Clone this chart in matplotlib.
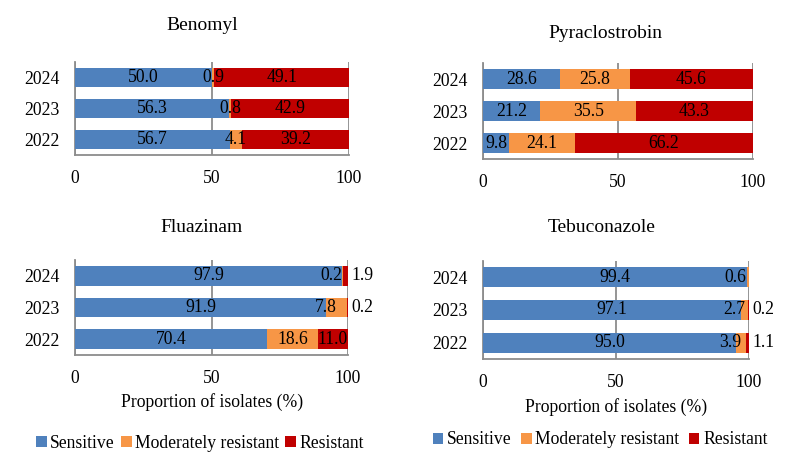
import matplotlib
matplotlib.use("Agg")
import matplotlib.pyplot as plt
from matplotlib.patches import Patch

plt.rcParams['font.family'] = ['Liberation Serif', 'DejaVu Serif']

# ---- data ----
years = ['2022', '2023', '2024']
categories = ['Sensitive', 'Moderately resistant', 'Resistant']
xticks = [0, 50, 100]

benomyl_s = [56.7, 56.3, 50.0]
benomyl_m = [4.1, 0.8, 0.9]
benomyl_r = [39.2, 42.9, 49.1]

pyra_s = [9.8, 21.2, 28.6]
pyra_m = [24.1, 35.5, 25.8]
pyra_r = [66.2, 43.3, 45.6]

flua_s = [70.4, 91.9, 97.9]
flua_m = [18.6, 7.8, 0.2]
flua_r = [11.0, 0.2, 1.9]

tebu_s = [95.0, 97.1, 99.4]
tebu_m = [3.9, 2.7, 0.6]
tebu_r = [1.1, 0.2, 0.0]

colors = ['#4F81BD', '#F79646', '#C00000']
W, H = 800, 459
FS = 12.7

fig = plt.figure(figsize=(W / 100, H / 100), dpi=100)


def px_axes(x0, x1, ytop, ybot):
    return fig.add_axes([x0 / W, 1 - ybot / H, (x1 - x0) / W, (ybot - ytop) / H])


def draw(ax, s, m, r, title, tpos, xlabel=None, xlpos=None):
    ypos = list(range(len(years)))
    left_m = [a for a in s]
    left_r = [a + b for a, b in zip(s, m)]
    ax.barh(ypos, s, height=0.62, color=colors[0], zorder=3)
    ax.barh(ypos, m, left=left_m, height=0.62, color=colors[1], zorder=3)
    ax.barh(ypos, r, left=left_r, height=0.62, color=colors[2], zorder=3)
    ax.set_xlim(0, 100)
    ax.set_ylim(-0.5, len(years) - 0.5)
    ax.set_yticks(ypos)
    ax.set_yticklabels(years, fontsize=FS)
    ax.set_xticks(xticks)
    ax.set_xticklabels([str(t) for t in xticks], fontsize=FS)
    ax.tick_params(axis='both', length=0)
    ax.tick_params(axis='y', pad=11)
    ax.tick_params(axis='x', pad=11)
    for sp in ['top', 'right']:
        ax.spines[sp].set_visible(False)
    for sp in ['left', 'bottom']:
        ax.spines[sp].set_color('#8C8C8C')
        ax.spines[sp].set_linewidth(1.3)
    ax.grid(axis='x', color='#8C8C8C', linewidth=1.3, zorder=0)
    ax.set_axisbelow(True)
    for i in ypos:
        # sensitive
        ax.text(s[i] / 2, i, f"{s[i]:.1f}", ha='center', va='center', fontsize=FS, zorder=5)
        # moderate
        cm = left_m[i] + m[i] / 2
        if cm > 93:
            ax.text(min(cm, 99), i, f"{m[i]:.1f}", ha='right', va='center', fontsize=FS, zorder=5)
        else:
            ax.text(cm, i, f"{m[i]:.1f}", ha='center', va='center', fontsize=FS, zorder=5)
        # resistant
        if r[i] > 0:
            if r[i] < 3:
                ax.text(101.3, i, f"{r[i]:.1f}", ha='left', va='center', fontsize=FS,
                        clip_on=False, zorder=5)
            else:
                ax.text(left_r[i] + r[i] / 2, i, f"{r[i]:.1f}", ha='center', va='center',
                        fontsize=FS, zorder=5)
    fig.text(tpos[0] / W, 1 - tpos[1] / H, title, ha='center', va='center', fontsize=14)
    if xlabel:
        fig.text(xlpos[0] / W, 1 - xlpos[1] / H, xlabel, ha='center', va='center', fontsize=FS)


ax1 = px_axes(75, 349, 62, 155)
draw(ax1, benomyl_s, benomyl_m, benomyl_r, 'Benomyl', (202, 26))
ax2 = px_axes(483, 753, 63, 159)
draw(ax2, pyra_s, pyra_m, pyra_r, 'Pyraclostrobin', (605, 33))
ax3 = px_axes(75, 348, 260, 355)
draw(ax3, flua_s, flua_m, flua_r, 'Fluazinam', (202, 228),
     'Proportion of isolates (%)', (212, 402))
ax4 = px_axes(483, 749, 261, 359)
draw(ax4, tebu_s, tebu_m, tebu_r, 'Tebuconazole', (602, 228),
     'Proportion of isolates (%)', (616, 407))

handles = [Patch(facecolor=c, edgecolor='none') for c in colors]
for cx, cy, csp in [(200, 443, 0.35), (600, 440, 0.55)]:
    fig.legend(handles, categories, loc='center', bbox_to_anchor=(cx / W, 1 - cy / H),
               ncol=3, frameon=False, fontsize=FS, handlelength=0.6, handleheight=0.6,
               handletextpad=0.2, columnspacing=csp, borderpad=0)

fig.savefig('out.png', dpi=100)
